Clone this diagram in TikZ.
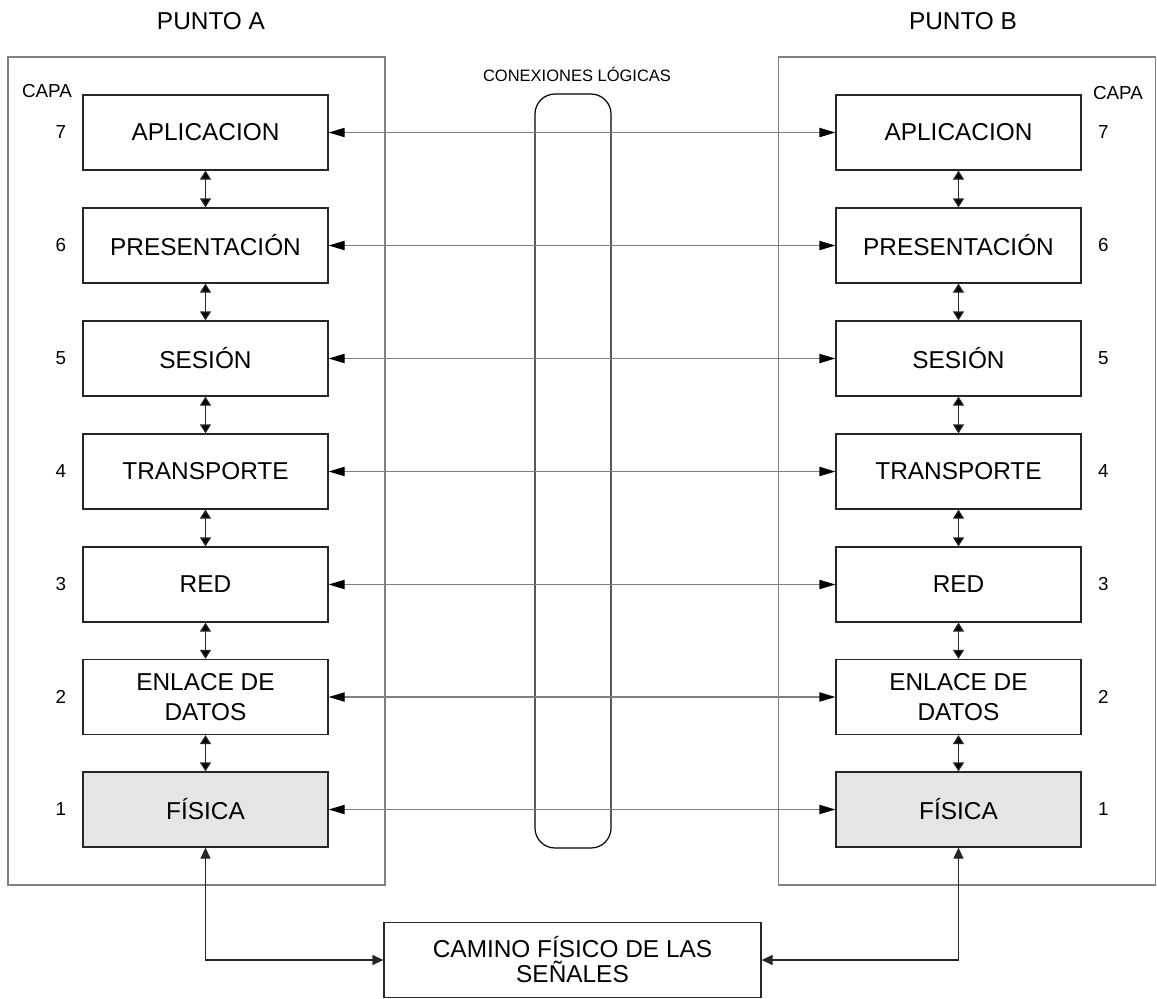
\documentclass[tikz,border=0pt]{standalone}
\usepackage{fontspec}
\setmainfont{Liberation Sans}
\usetikzlibrary{positioning, arrows.meta}

\begin{document}
\begin{tikzpicture}[
    x=0.5pt, y=-0.5pt,
    every node/.style={font=\fontsize{12.2}{15}\selectfont},
    layer/.style={draw=black!85, line width=0.6pt, minimum width=122.5pt, minimum height=37.5pt, inner sep=0pt, align=center},
    physical/.style={layer, fill=black!10},
    frame/.style={draw=black!50, line width=0.6pt, minimum width=188.5pt, minimum height=414pt, inner sep=0pt},
    capnum/.style={font=\fontsize{9.4}{11}\selectfont, inner sep=0pt},
    stack/.style={{Triangle[length=4.5pt,width=5.5pt]}-{Triangle[length=4.5pt,width=5.5pt]}, draw=black!85, line width=0.6pt},
    logic/.style={{Triangle[length=8pt,width=4.6pt,color=black]}-{Triangle[length=8pt,width=4.6pt,color=black]}, draw=black!50, line width=0.6pt},
    signal/.style={{Triangle[length=5.5pt,width=5pt]}-{Triangle[length=5.5pt,width=5pt]}, draw=black!85, line width=0.6pt}
]
    \useasboundingbox (0,0) rectangle (1157,998);

    % Two end points, each framed by a thin grey box with its title above.
    \node[frame] (frameA) at (196.5,471) {};
    \node[frame] (frameB) at (967,471) {};
    \node (puntoA) at (211,21) {PUNTO A};
    \node (puntoB) at (963,21) {PUNTO B};

    % Column of the logical connections between the two stacks.
    \node[draw=black, line width=0.6pt, rounded corners=10pt, minimum width=38pt, minimum height=377pt] (tube) at (573,471) {};
    \node[font=\fontsize{8.25}{10}\selectfont] (tubeTitle) at (577,74) {CONEXIONES LÓGICAS};

    % Layers of point A, 7 at the top down to 1.
    \node[layer] (a7) at (205.5,132.5) {APLICACION};
    \node[layer] (a6) at (205.5,245.5) {PRESENTACIÓN};
    \node[layer] (a5) at (205.5,358.5) {SESIÓN};
    \node[layer] (a4) at (205.5,471.5) {TRANSPORTE};
    \node[layer] (a3) at (205.5,584.5) {RED};
    \node[layer] (a2) at (205.5,697) {ENLACE DE\\DATOS};
    \node[physical] (a1) at (205.5,809.5) {FÍSICA};

    % Layers of point B.
    \node[layer] (b7) at (958.5,132.5) {APLICACION};
    \node[layer] (b6) at (958.5,245.5) {PRESENTACIÓN};
    \node[layer] (b5) at (958.5,358.5) {SESIÓN};
    \node[layer] (b4) at (958.5,471.5) {TRANSPORTE};
    \node[layer] (b3) at (958.5,584.5) {RED};
    \node[layer] (b2) at (958.5,697) {ENLACE DE\\DATOS};
    \node[physical] (b1) at (958.5,809.5) {FÍSICA};

    % Layer numbers beside the boxes.
    \node[capnum] (capaA) at (47,91) {CAPA};
    \node[capnum] (capaB) at (1118,93) {CAPA};
    \node[capnum, left=8pt of a7] (na7) {7};
    \node[capnum, left=8pt of a6] (na6) {6};
    \node[capnum, left=8pt of a5] (na5) {5};
    \node[capnum, left=8pt of a4] (na4) {4};
    \node[capnum, left=8pt of a3] (na3) {3};
    \node[capnum, left=8pt of a2] (na2) {2};
    \node[capnum, left=8pt of a1] (na1) {1};
    \node[capnum, right=8pt of b7] (nb7) {7};
    \node[capnum, right=8pt of b6] (nb6) {6};
    \node[capnum, right=8pt of b5] (nb5) {5};
    \node[capnum, right=8pt of b4] (nb4) {4};
    \node[capnum, right=8pt of b3] (nb3) {3};
    \node[capnum, right=8pt of b2] (nb2) {2};
    \node[capnum, right=8pt of b1] (nb1) {1};

    % Physical path at the bottom.
    \node[layer, minimum width=188.5pt, font=\fontsize{12.2}{12.5}\selectfont] (camino) at (572.5,960) {CAMINO FÍSICO DE LAS\\SEÑALES};

    % Arrows inside each stack.
    \path[stack]
        (a7) edge (a6) (a6) edge (a5) (a5) edge (a4)
        (a4) edge (a3) (a3) edge (a2) (a2) edge (a1)
        (b7) edge (b6) (b6) edge (b5) (b5) edge (b4)
        (b4) edge (b3) (b3) edge (b2) (b2) edge (b1);

    % Logical connections between peer layers.
    \path[logic]
        (a7) edge (b7) (a6) edge (b6) (a5) edge (b5) (a4) edge (b4)
        (a3) edge (b3) (a2) edge (b2) (a1) edge (b1);

    % Signals through the physical path.
    \draw[signal] (a1) |- (camino);
    \draw[signal] (b1) |- (camino);
\end{tikzpicture}
\end{document}
